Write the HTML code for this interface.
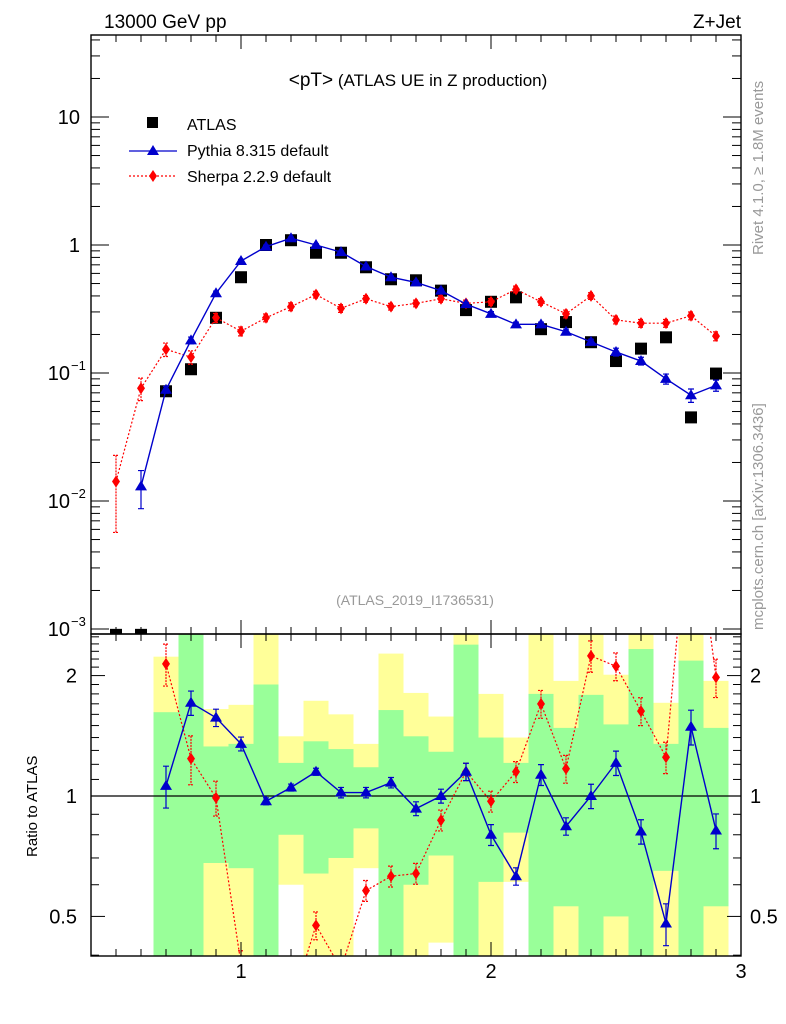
<!DOCTYPE html>
<html><head><meta charset="utf-8">
<style>
html,body{margin:0;padding:0;background:#fff;}
svg{display:block;font-family:"Liberation Sans",Arial,sans-serif;}
</style></head>
<body>
<svg id="chart" width="786" height="1024" viewBox="0 0 786 1024" xmlns="http://www.w3.org/2000/svg">
<defs>
<clipPath id="clipMain"><rect x="91" y="35" width="650" height="599"/></clipPath>
<clipPath id="clipRatio"><rect x="91" y="634" width="650" height="322"/></clipPath>
</defs>
<g id="bands" clip-path="url(#clipRatio)"></g>
<g id="marks"></g>
<text x="104" y="28" font-size="19">13000 GeV pp</text>
<text x="741" y="28" font-size="19" text-anchor="end">Z+Jet</text>
<text x="418" y="86" font-size="17" text-anchor="middle"><tspan font-size="19">&lt;pT&gt;</tspan> (ATLAS UE in Z production)</text>
<text x="415" y="605" font-size="14" fill="#999" text-anchor="middle">(ATLAS_2019_I1736531)</text>
<text font-size="15" fill="#999" transform="translate(763,255) rotate(-90)">Rivet 4.1.0, ≥ 1.8M events</text>
<text font-size="15" fill="#999" transform="translate(763,630) rotate(-90)">mcplots.cern.ch [arXiv:1306.3436]</text>
<text font-size="15" transform="translate(37,857) rotate(-90)">Ratio to ATLAS</text>
<g>
  <rect x="147" y="117" width="11" height="11" fill="#000"/>
  <text x="187" y="130" font-size="16">ATLAS</text>
  <line x1="129" y1="151" x2="177" y2="151" stroke="#00c" stroke-width="1.3"/>
  <polygon points="153,145 159,155 147,155" fill="#00c"/>
  <text x="187" y="156" font-size="16">Pythia 8.315 default</text>
  <line x1="129" y1="176" x2="177" y2="176" stroke="#f00" stroke-width="1.2" stroke-dasharray="2,2"/>
  <polygon points="153,170 157,176 153,182 149,176" fill="#f00"/>
  <text x="187" y="182" font-size="16">Sherpa 2.2.9 default</text>
</g>
<g id="axes"></g>
</svg>
<script>
const xs = [0.5,0.6,0.7,0.8,0.9,1.0,1.1,1.2,1.3,1.4,1.5,1.6,1.7,1.8,1.9,2.0,2.1,2.2,2.3,2.4,2.5,2.6,2.7,2.8,2.9];
const atlasVals = [0.0009,0.0009,0.072,0.107,0.27,0.56,1.0,1.09,0.87,0.87,0.67,0.54,0.53,0.44,0.31,0.36,0.39,0.22,0.25,0.174,0.124,0.155,0.19,0.045,0.099];
const pythiaVals = [null,0.013,0.074,0.18,0.42,0.75,0.97,1.13,1.0,0.88,0.68,0.56,0.51,0.44,0.345,0.29,0.24,0.24,0.21,0.175,0.146,0.124,0.09,0.067,0.08];
const pythiaErr = [null,0.33,0.06,0.06,0.04,0.03,0.03,0.02,0.02,0.02,0.02,0.02,0.03,0.03,0.03,0.04,0.04,0.04,0.05,0.05,0.07,0.07,0.09,0.12,0.1];
const sherpaVals = [0.0142,0.076,0.153,0.133,0.27,0.212,0.27,0.33,0.41,0.32,0.38,0.33,0.35,0.38,0.35,0.36,0.45,0.36,0.29,0.40,0.26,0.245,0.245,0.28,0.194];
const sherpaErr = [0.6,0.2,0.12,0.12,0.08,0.08,0.07,0.07,0.06,0.07,0.06,0.06,0.06,0.06,0.06,0.06,0.06,0.06,0.07,0.06,0.07,0.07,0.07,0.07,0.08];
const pythiaRatio = [null,null,1.06,1.71,1.57,1.35,0.97,1.05,1.15,1.02,1.02,1.08,0.93,1.0,1.15,0.80,0.63,1.13,0.84,1.0,1.21,0.815,0.48,1.49,0.82];
const pythiaRatioErr = [null,null,0.12,0.07,0.05,0.04,0.02,0.02,0.02,0.03,0.03,0.03,0.04,0.04,0.05,0.06,0.05,0.06,0.05,0.07,0.07,0.07,0.12,0.1,0.1];
const sherpaRatio = [null,null,2.14,1.24,0.99,0.38,0.27,0.30,0.475,0.37,0.58,0.63,0.64,0.87,1.15,0.97,1.15,1.70,1.17,2.24,2.11,1.63,1.25,6.0,1.98];
const sherpaRatioErr = [null,null,0.12,0.14,0.1,0.08,0.07,0.07,0.08,0.07,0.06,0.06,0.06,0.06,0.05,0.06,0.06,0.08,0.08,0.09,0.08,0.08,0.09,0.1,0.11];
const bandX = [0.7,0.8,0.9,1.0,1.1,1.2,1.3,1.4,1.5,1.6,1.7,1.8,1.9,2.0,2.1,2.2,2.3,2.4,2.5,2.6,2.7,2.8,2.9];
const yellowHi = [2.23,3,1.65,1.69,3,1.41,1.73,1.60,1.35,2.27,1.81,1.58,3,1.80,1.40,3,1.94,3,2.01,3,1.71,3,1.94];
const greenHi = [1.62,3,1.33,1.35,1.90,1.21,1.37,1.31,1.18,1.64,1.41,1.29,2.39,1.40,1.21,1.80,1.48,1.79,1.51,2.33,1.35,2.18,1.48];
const greenLo = [0.3,0.3,0.68,0.66,0.3,0.80,0.64,0.70,0.83,0.3,0.60,0.71,0.3,0.61,0.81,0.3,0.53,0.3,0.50,0.3,0.65,0.3,0.53];
const yellowLo = [0.3,0.3,0.3,0.3,0.3,0.60,0.3,0.3,0.66,0.3,0.3,0.43,0.3,0.3,0.61,0.3,0.3,0.3,0.3,0.3,0.3,0.3,0.3];

const NS='http://www.w3.org/2000/svg';
const L=91,R=741,MT=35,MB=634,RT=634,RB=956;
const X=v=>L+(v-0.4)*250;
const Y=v=>245-128*Math.log10(v);
const YR=v=>796-400*Math.log10(v);
function mk(parent,tag,attrs){const e=document.createElementNS(NS,tag);for(const k in attrs)e.setAttribute(k,attrs[k]);parent.appendChild(e);return e;}
const bands=document.getElementById('bands');
const marks=document.getElementById('marks');
const axes=document.getElementById('axes');

bandX.forEach((b,i)=>{
  const x0=X(b-0.05),w=X(b+0.05)-x0;
  let r=mk(bands,'rect',{x:x0,y:YR(yellowHi[i]),width:w,height:YR(yellowLo[i])-YR(yellowHi[i]),fill:'#ffff99'});
  
  
  r=mk(bands,'rect',{x:x0,y:YR(greenHi[i]),width:w,height:YR(greenLo[i])-YR(greenHi[i]),fill:'#99ff99'});
  
  
});
let ul=mk(marks,'line',{x1:L,x2:R,y1:YR(1),y2:YR(1),stroke:'#000','stroke-width':1.2});



const gm=mk(marks,'g',{'clip-path':'url(#clipMain)'});
const gr=mk(marks,'g',{'clip-path':'url(#clipRatio)'});

function series(g,vals,errs,yf,color,dash,shape,name){
  let pts=[];
  xs.forEach((x,i)=>{if(vals[i]!=null)pts.push([X(x),yf(vals[i])]);});
  const pl=mk(g,'polyline',{points:pts.map(p=>p.join(',')).join(' '),fill:'none',stroke:color,'stroke-width':dash?1.2:1.4});
  if(dash)pl.setAttribute('stroke-dasharray','2,2');
  
  
  xs.forEach((x,i)=>{
    const v=vals[i]; if(v==null)return;
    const cx=X(x),cy=yf(v);
    if(errs&&errs[i]){
      const y1=yf(v*(1+errs[i])),y2=yf(Math.max(v*(1-errs[i]),1e-6));
      const eb=mk(g,'path',{d:`M${cx},${y1}V${y2}M${cx-3},${y1}H${cx+3}M${cx-3},${y2}H${cx+3}`,stroke:color,'stroke-width':1.2,fill:'none'});
      if(dash)eb.setAttribute('stroke-dasharray','2,1');
      
      
    }
    let m;
    if(shape==='tri')m=mk(g,'polygon',{points:`${cx},${cy-6} ${cx+6},${cy+4} ${cx-6},${cy+4}`,fill:color});
    else if(shape==='dia')m=mk(g,'polygon',{points:`${cx},${cy-6} ${cx+4},${cy} ${cx},${cy+6} ${cx-4},${cy}`,fill:color});
    else m=mk(g,'rect',{x:cx-6,y:cy-6,width:12,height:12,fill:color});
    
    
  });
  if(shape==='sq')pl.remove();
}
series(gm,atlasVals,null,Y,'#000',false,'sq','atlas');
series(gm,sherpaVals,sherpaErr,Y,'#f00',true,'dia','sherpa');
series(gm,pythiaVals,pythiaErr,Y,'#00c',false,'tri','pythia');
series(gr,sherpaRatio,sherpaRatioErr,YR,'#f00',true,'dia','sherpa-ratio');
series(gr,pythiaRatio,pythiaRatioErr,YR,'#00c',false,'tri','pythia-ratio');

[[MT,MB],[RT,RB]].forEach(([t,b],k)=>{
  const f=mk(axes,'rect',{x:L,y:t,width:R-L,height:b-t,fill:'none',stroke:'#000','stroke-width':1.4});
  
  
});
for(let i=4;i<=30;i++){
  const v=i/10,x=X(v),major=(i%10===0),len=major?14:7;
  [[MT,1],[MB,-1],[RT,1],[RB,-1]].forEach(([y,d])=>{
    mk(axes,'line',{x1:x,x2:x,y1:y,y2:y+d*len,stroke:'#000','stroke-width':1});
  });
  if(major){
    const t=mk(axes,'text',{x:x,y:978,'font-size':20,'text-anchor':'middle'});
    t.textContent=String(v);
    
    
  }
}
for(let e=-3;e<=1;e++){
  for(let m=1;m<=9;m++){
    const v=m*Math.pow(10,e),y=Y(v);
    if(y<MT||y>MB)continue;
    const len=m===1?18:9;
    mk(axes,'line',{x1:L,x2:L+len,y1:y,y2:y,stroke:'#000','stroke-width':1});
    mk(axes,'line',{x1:R,x2:R-len,y1:y,y2:y,stroke:'#000','stroke-width':1});
  }
}
const mainTicks=[[10,'10',''],[1,'1',''],[0.1,'10','−1'],[0.01,'10','−2'],[0.001,'10','−3']];
mainTicks.forEach(([v,b,s])=>{
  const t=mk(axes,'text',{x:s?70:80,y:Y(v)+7,'font-size':20,'text-anchor':'end'});
  t.textContent=b;
  
  
  if(s){const u=mk(axes,'text',{x:71,y:Y(v)-3,'font-size':13});u.textContent=s;
    
    }
});
const rTicks=[0.4,0.5,0.6,0.7,0.8,0.9,1,1.1,1.2,1.3,1.4,1.5,1.6,1.7,1.8,1.9,2,2.1,2.2,2.3,2.4,2.5];
rTicks.forEach(v=>{
  const y=YR(v);if(y<RT||y>RB)return;
  const major=(v===0.5||v===1||v===2),len=major?14:8;
  mk(axes,'line',{x1:L,x2:L+len,y1:y,y2:y,stroke:'#000','stroke-width':1});
  mk(axes,'line',{x1:R,x2:R-len,y1:y,y2:y,stroke:'#000','stroke-width':1});
});
[[2,'2'],[1,'1'],[0.5,'0.5']].forEach(([v,s])=>{
  let t=mk(axes,'text',{x:77,y:YR(v)+7,'font-size':20,'text-anchor':'end'});t.textContent=s;
  
  
  t=mk(axes,'text',{x:750,y:YR(v)+7,'font-size':20});t.textContent=s;
  
  
});
</script>
</body></html>
